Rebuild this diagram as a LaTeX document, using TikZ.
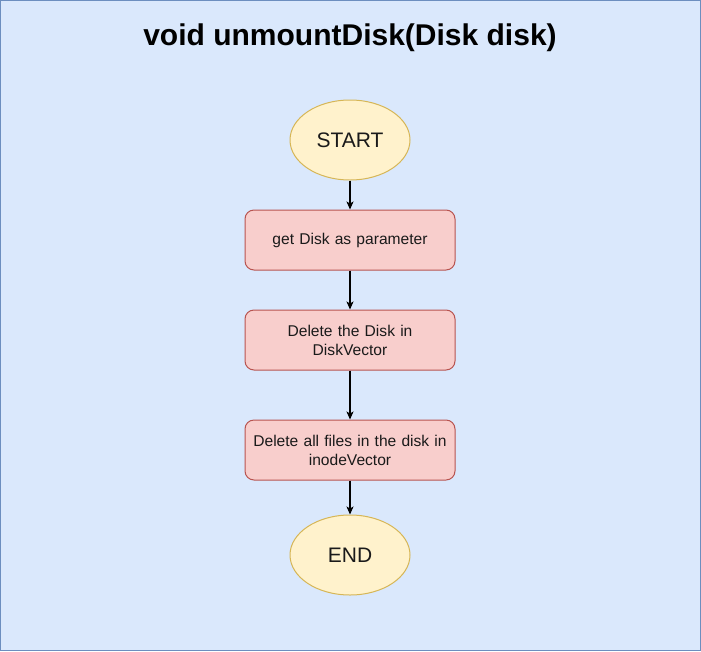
\documentclass[tikz,border=0pt]{standalone}
\usepackage{fontspec}
\setmainfont{Liberation Sans}
\usetikzlibrary{shapes.geometric,arrows.meta}
\definecolor{bgfill}{HTML}{DAE8FC}
\definecolor{bgline}{HTML}{6C8EBF}
\definecolor{termfill}{HTML}{FFF2CC}
\definecolor{termline}{HTML}{D6B656}
\definecolor{procfill}{HTML}{F8CECC}
\definecolor{procline}{HTML}{B85450}
\definecolor{txt}{HTML}{1A1A1A}
\begin{document}
\begin{tikzpicture}[x=1pt,y=-1pt,line width=1pt,
    terminal/.style={ellipse,draw=termline,fill=termfill,text=txt,minimum width=120pt,minimum height=80pt,inner sep=0pt,font=\fontsize{21}{25}\selectfont},
    process/.style={rectangle,rounded corners=9pt,draw=procline,fill=procfill,text=txt,minimum width=210pt,minimum height=60pt,text width=200pt,align=center,inner sep=0pt,font=\fontsize{15.6}{19}\selectfont},
    flow/.style={line width=1.2pt,-{Stealth[length=8pt,width=7pt,inset=2pt]}}]
            \draw[bgline,fill=bgfill] (0.5,0.5) rectangle (700.5,650.5);
            \useasboundingbox (0,0) rectangle (701,651);
            \node (title) at (350,38) {\fontsize{30}{35}\selectfont\bfseries void unmountDisk(Disk disk)};
            \node[terminal] (start) at (350,140) {START};
            \node[process] (getdisk) at (350,240) {get Disk as parameter};
            \node[process] (deldisk) at (350,340) {Delete the Disk in\\DiskVector};
            \node[process] (delfiles) at (350,450) {Delete all files in the disk in\\inodeVector};
            \node[terminal] (stop) at (350,555) {END};
            \draw[flow] (start) -- (getdisk);
            \draw[flow] (getdisk) -- (deldisk);
            \draw[flow] (deldisk) -- (delfiles);
            \draw[flow] (delfiles) -- (stop);
        \end{tikzpicture}
\end{document}
